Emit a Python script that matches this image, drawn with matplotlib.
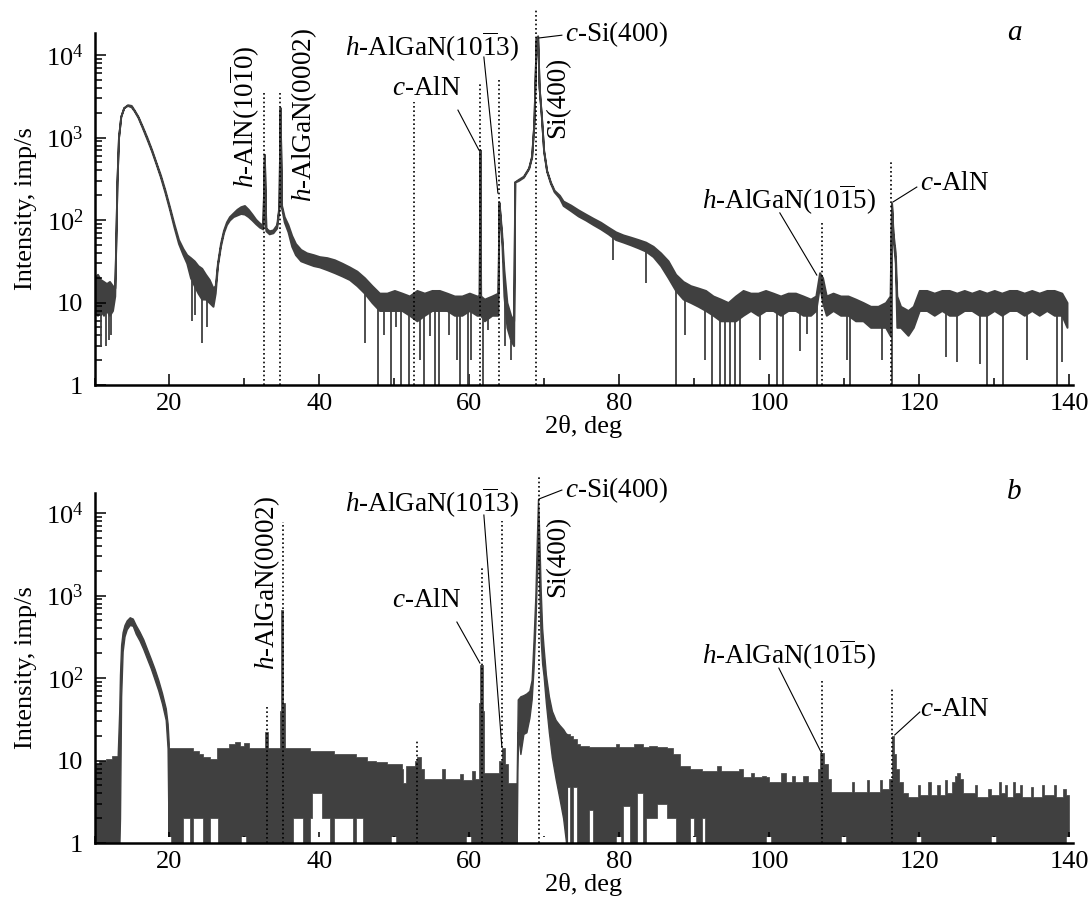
import numpy as np
import matplotlib
matplotlib.use("Agg")
import matplotlib.pyplot as plt
from matplotlib.ticker import FixedLocator, LogLocator, MultipleLocator, NullFormatter

plt.rcParams['font.family'] = ['Liberation Serif', 'DejaVu Serif']
plt.rcParams['mathtext.fontset'] = 'custom'
plt.rcParams['mathtext.rm'] = 'Liberation Serif'
plt.rcParams['mathtext.it'] = 'Liberation Serif:italic'
plt.rcParams['font.size'] = 19

# ---- panel a: noisy line given as upper / lower envelope (imp/s)
a_x = [10.0, 10.4, 10.8, 11.2, 11.6, 12.0, 12.4, 12.7, 12.85, 13.0, 13.2, 13.5, 13.9, 14.4, 14.9,
       15.3, 15.8, 16.4, 17.0, 17.6, 18.2, 18.8, 19.4, 20.0, 20.6, 21.2, 21.8, 22.3, 22.8, 23.3,
       23.8, 24.3, 24.8, 25.3, 25.8, 26.1, 26.4, 26.8, 27.2, 27.6, 28.0, 28.5, 29.0, 29.5, 30.0,
       30.5, 31.0, 31.5, 32.0, 32.45, 32.65, 32.85, 33.3, 33.8, 34.3, 34.6, 34.75, 34.95, 35.3, 35.8,
       36.3, 36.8, 37.5, 38.3, 39.2, 40.0, 41.0, 42.0, 43.0, 44.0, 45.0, 46.0, 47.0, 48.0, 49.0,
       50.0, 51.0, 52.0, 53.0, 54.0, 55.0, 56.0, 57.0, 58.0, 59.0, 60.0, 61.0, 61.3, 61.4, 61.5,
       62.0, 63.0, 63.8, 63.95, 64.3, 64.6, 65.0, 65.5, 65.9, 66.05, 66.5, 67.2, 67.9, 68.3, 68.6,
       68.9, 69.1, 69.3, 69.6, 69.9, 70.3, 70.8, 71.3, 72.0, 72.5, 73.5, 74.5, 75.5, 76.5, 77.5,
       78.5, 79.5, 80.5, 81.5, 82.5, 83.5, 84.5, 85.5, 86.5, 87.5, 88.5, 89.5, 90.5, 91.5, 92.5,
       93.5, 94.5, 95.5, 96.5, 97.5, 98.5, 99.5, 100.5, 101.5, 102.5, 103.5, 104.5, 105.5, 106.2, 106.7,
       107.1, 107.6, 108.5, 109.5, 110.5, 111.5, 112.5, 113.5, 114.5, 115.5, 116.1, 116.3, 116.5, 116.8, 117.0,
       117.5, 118.5, 119.2, 120.0, 121.0, 122.0, 123.0, 124.0, 125.0, 126.0, 127.0, 128.0, 129.0, 130.0, 131.0,
       132.0, 133.0, 134.0, 135.0, 136.0, 137.0, 138.0, 139.0, 139.7]
a_hi = [20, 22, 19, 18, 17, 18, 16, 15, 60, 300, 1000, 1800, 2300, 2500, 2450,
        2150, 1800, 1350, 1000, 720, 500, 350, 230, 145, 90, 58, 45, 38, 35, 32,
        28, 26, 22, 19, 15, 16, 30, 52, 75, 95, 110, 122, 135, 145, 150,
        135, 118, 102, 92, 86, 620, 80, 74, 76, 88, 150, 2300, 150, 110, 88,
        65, 52, 44, 40, 38, 36, 35, 33, 30, 27, 24, 20, 16, 13, 13,
        14, 13, 12, 14, 13, 14, 14, 13, 12, 12, 13, 12, 12, 710, 12,
        11, 12, 13, 166, 70, 25, 10, 7, 6, 290, 310, 340, 430, 600, 1500,
        16000, 17000, 4000, 1800, 700, 400, 290, 230, 200, 170, 152, 133, 118, 105, 94,
        82, 72, 66, 62, 58, 54, 48, 40, 32, 22, 18, 16, 15, 14, 12,
        11, 10, 12, 14, 13, 13, 14, 13, 12, 13, 13, 12, 11, 12, 23,
        20, 12, 13, 12, 12, 11, 10, 9, 9, 10, 12, 160, 70, 40, 12,
        9, 8, 9, 14, 14, 13, 14, 14, 13, 14, 13, 14, 13, 14, 13,
        14, 14, 13, 14, 13, 14, 14, 13, 10]
a_lo = [8, 7, 8, 7, 8, 7, 8, 12, 60, 300, 1000, 1800, 2300, 2450, 2350,
        2100, 1750, 1300, 950, 690, 480, 330, 215, 135, 82, 52, 38, 30, 20, 16,
        13, 11, 11, 10, 9, 13, 28, 48, 70, 88, 100, 110, 115, 120, 118,
        110, 100, 90, 82, 78, 620, 74, 68, 70, 80, 140, 2300, 140, 95, 72,
        48, 38, 32, 30, 28, 27, 25, 23, 21, 19, 16, 13, 10, 8, 8,
        8, 8, 7, 6, 7, 8, 8, 8, 7, 7, 8, 7, 7, 710, 7,
        6, 7, 7, 160, 60, 12, 5, 3.5, 3, 290, 300, 330, 420, 580, 1500,
        16000, 17000, 4000, 1800, 680, 390, 280, 220, 185, 150, 130, 112, 100, 88, 78,
        68, 58, 54, 50, 46, 42, 36, 28, 20, 14, 11, 10, 9, 8, 7,
        6, 6, 6, 7, 8, 7, 8, 8, 7, 8, 8, 7, 7, 8, 16,
        10, 7, 8, 7, 7, 6, 6, 5, 5, 5, 4, 160, 60, 30, 5,
        5, 4, 5, 8, 8, 7, 8, 7, 7, 8, 8, 7, 7, 8, 7,
        8, 8, 7, 8, 7, 8, 7, 7, 5]

# downward noise spikes of panel a: position and lowest value
a_dip_x = [10.9, 11.5, 11.9, 12.2, 23.0, 23.4, 24.3, 25.0, 46.1, 47.8, 48.6, 49.6, 50.2, 50.9, 52.0,
           53.4, 53.9, 54.7, 55.4, 56.0, 57.3, 58.3, 58.7, 59.8, 60.2, 61.85, 62.5, 64.7, 65.6, 79.2,
           83.6, 87.6, 88.7, 91.4, 92.3, 93.4, 94.1, 94.7, 95.4, 96.07, 98.7, 101.0, 101.85, 104.1, 105.0,
           106.4, 110.3, 110.7, 115.0, 116.3, 123.6, 125.0, 128.1, 129.0, 131.2, 134.3, 138.3, 139.0]
a_dip_y = [3, 3, 3.5, 4, 6, 7, 3.2, 5, 3.2, 0.5, 4, 0.5, 5, 0.5, 0.5,
           2, 0.5, 3.9, 0.5, 0.5, 4, 2, 0.5, 0.5, 2, 0.5, 4.6, 3, 2, 33,
           17, 0.5, 4, 2, 0.5, 0.5, 0.5, 0.5, 0.5, 0.5, 2, 0.5, 0.5, 2.6, 4.2,
           0.5, 2, 0.5, 2, 0.5, 2.2, 1.9, 1.8, 0.5, 0.5, 2, 0.5, 1.9]

# ---- panel b: dense histogram, step envelope (value holds from x to next x);
# the two smooth bands (low-angle hump, Si(400) peak) are listed separately
b_x = [10.0, 10.6, 11.6, 12.4, 13.1, 13.3, 19.9, 21.8, 22.7, 23.2, 24.0, 24.5, 25.4, 26.3,
       26.5, 28.0, 28.7, 29.4, 30.0, 30.6, 32.8, 33.2, 34.7, 34.85, 35.2, 35.4, 36.5, 37.8, 38.7,
       39.0, 40.4, 41.4, 41.9, 44.5, 44.9, 45.8, 46.3, 47.5, 49.0, 51.0, 51.2, 51.6, 52.7, 53.0,
       53.5, 54.0, 56.3, 56.7, 58.7, 59.1, 60.3, 60.7, 61.3, 61.45, 61.75, 61.9, 64.0, 64.3, 64.7,
       65.2, 66.3, 73.0, 73.4, 73.85, 74.3, 74.7, 76.0, 76.5, 79.5,
       80.0, 80.5, 81.4, 82.0, 82.3, 83.2, 83.6, 84.0, 85.0, 86.3, 87.2, 87.6, 88.1, 89.4, 89.9,
       91.0, 91.4, 93.0, 93.5, 96.0, 96.5, 97.5, 98.0, 99.0, 99.5, 100.0, 101.5, 102.2, 103.0, 103.4,
       104.5, 105.2, 106.5, 106.7, 107.3, 107.8, 108.2, 111.0, 111.3, 113.0, 113.3, 114.7, 115.0, 116.0, 116.3,
       116.6, 116.9, 117.3, 117.8, 118.5, 119.8, 120.1, 121.2, 121.5, 122.4, 122.7, 123.4, 123.7, 124.4, 124.7,
       125.0, 125.4, 125.8, 127.4, 127.7, 129.2, 129.5, 130.6, 130.9, 131.4, 131.7, 132.5, 132.8, 133.4, 133.7,
       134.9, 135.2, 136.3, 136.6, 137.9, 138.2, 139.2, 139.5, 140.0]
b_hi = [9, 10, 10.5, 11.5, 12, 0.8, 14, 14, 14, 13, 12, 11, 10.5, 14,
        14, 16, 17, 15, 16.5, 14, 22, 14, 40, 670, 50, 14, 14, 14, 13,
        13, 13, 13, 12, 12, 11, 11, 10, 9.5, 9, 8, 5.3, 8.5, 10, 11,
        8, 6, 8, 6, 6.8, 5.8, 7.5, 6, 50, 144, 40, 7, 10, 14, 9,
        5.3, 0.8, 21, 20, 18, 16, 15, 14.5, 14.5, 16,
        14.5, 14.5, 14.5, 16, 16, 14.5, 14.5, 15, 14.5, 14, 12, 12, 8.5, 8, 8,
        7.5, 7.5, 8.5, 7.5, 8, 6.3, 7, 6.3, 6.5, 6.3, 5.5, 7, 5.5, 6.5, 5.5,
        6.5, 5.5, 8, 12.2, 9, 6, 4.2, 5.5, 4.2, 5.8, 4.2, 5.8, 4.5, 6, 20,
        12, 8, 5.5, 4, 3.6, 5, 3.8, 5.5, 3.8, 5, 3.8, 5.8, 4, 5.5, 6.5,
        7, 6, 4, 5, 3.6, 4.5, 3.8, 5.5, 4, 5, 3.6, 5.5, 4, 5, 3.6,
        4.8, 3.6, 5, 3.8, 5, 3.6, 4.5, 3.8, 3.8]
b_lo = [0.8, 0.8, 0.8, 0.8, 0.8, 0.8, 0.8, 2, 0.8, 2, 2, 0.8, 2, 2,
        0.8, 0.8, 0.8, 0.8, 0.8, 0.8, 0.8, 0.8, 0.8, 0.8, 0.8, 0.8, 2, 0.8, 2,
        4, 2, 0.8, 2, 0.8, 2, 0.8, 0.8, 0.8, 0.8, 0.8, 0.8, 0.8, 0.8, 0.8,
        0.8, 0.8, 0.8, 0.8, 0.8, 0.8, 0.8, 0.8, 0.8, 0.8, 0.8, 0.8, 0.8, 0.8, 0.8,
        0.8, 0.8, 4.8, 0.8, 4.8, 0.8, 0.8, 2.5, 0.8, 0.8,
        0.8, 2.8, 0.8, 0.8, 4, 0.8, 2, 2, 3, 2, 2, 0.8, 0.8, 2, 0.8,
        2, 0.8, 0.8, 0.8, 0.8, 0.8, 0.8, 0.8, 0.8, 0.8, 0.8, 0.8, 0.8, 0.8, 0.8,
        0.8, 0.8, 0.8, 0.8, 0.8, 0.8, 0.8, 0.8, 0.8, 0.8, 0.8, 0.8, 0.8, 0.8, 0.8,
        0.8, 0.8, 0.8, 0.8, 0.8, 0.8, 0.8, 0.8, 0.8, 0.8, 0.8, 0.8, 0.8, 0.8, 0.8,
        0.8, 0.8, 0.8, 0.8, 0.8, 0.8, 0.8, 0.8, 0.8, 0.8, 0.8, 0.8, 0.8, 0.8, 0.8,
        0.8, 0.8, 0.8, 0.8, 0.8, 0.8, 0.8, 0.8, 0.8]

b_hump_x = [13.1, 13.3, 13.4, 13.55, 13.75, 14.0, 14.3, 14.7, 15.1, 15.5, 16.0, 16.5, 17.0, 17.5, 18.0,
            18.5, 19.0, 19.5, 19.75, 19.9]
b_hump_hi = [12, 40, 110, 250, 360, 440, 500, 545, 525, 440, 365, 295, 225, 172, 130,
             95, 66, 43, 28, 16]
b_hump_lo = [0.8, 0.8, 2, 60, 210, 320, 390, 440, 430, 345, 285, 225, 172, 132, 97,
             71, 49, 31, 14, 0.8]

b_si_x = [66.3, 66.45, 66.8, 67.2, 67.6, 68.0, 68.3, 68.55, 68.8, 69.0, 69.15, 69.3, 69.5, 69.7, 69.9,
          70.2, 70.6, 71.0, 71.5, 72.0, 72.5, 72.9, 73.0]
b_si_hi = [5.3, 55, 60, 62, 65, 70, 95, 280, 1000, 5000, 14700, 6000, 1200, 400, 230,
           110, 60, 40, 31, 27, 24, 21, 21]
b_si_lo = [0.8, 22, 12, 21, 22, 33, 55, 130, 450, 1800, 5000, 1500, 300, 150, 105,
           50, 22, 11, 6, 3.5, 2, 1, 0.8]

# reflection markers (dotted lines): position, top
a_ref_x = [32.65, 34.8, 52.6, 61.4, 64.0, 68.85, 106.96, 116.2]
a_ref_top = [3500, 3500, 2700, 4500, 5100, 37000, 92, 530]
b_ref_x = [32.96, 35.15, 52.96, 61.7, 64.4, 69.3, 106.96, 116.4]
b_ref_top = [45, 7800, 18, 2150, 8000, 29000, 93, 78]

L1013 = r'$h$-AlGaN(10$\overline{1}$3)'
L1015 = r'$h$-AlGaN(10$\overline{1}$5)'
L1010 = r'$h$-AlN(10$\overline{1}$0)'
L0002 = r'$h$-AlGaN(0002)'
LCALN = r'$c$-AlN'
LCSI = r'$c$-Si(400)'

# text: label, x, y, rotation, ha, va
a_texts = [(L1010, 30.07, 244, 90, 'center', 'bottom'),
           (L0002, 37.93, 165, 90, 'center', 'bottom'),
           (L1013, 43.4, 12500, 0, 'left', 'center'),
           (LCALN, 49.67, 3980, 0, 'left', 'center'),
           (LCSI, 72.73, 18000, 0, 'left', 'center'),
           ('Si(400)', 71.8, 986, 90, 'center', 'bottom'),
           (L1015, 91.0, 175, 0, 'left', 'center'),
           (LCALN, 120.07, 281, 0, 'left', 'center')]
b_texts = [(L0002, 33.0, 125, 90, 'center', 'bottom'),
           (L1013, 43.4, 13200, 0, 'left', 'center'),
           (LCALN, 49.67, 882, 0, 'left', 'center'),
           (LCSI, 72.73, 19000, 0, 'left', 'center'),
           ('Si(400)', 71.8, 959, 90, 'center', 'bottom'),
           (L1015, 91.0, 190, 0, 'left', 'center'),
           (LCALN, 120.07, 41, 0, 'left', 'center')]
# leader lines: x0, y0, x1, y1
a_leaders = [(61.93, 9460, 63.8, 212), (58.47, 2150, 61.27, 705), (72.33, 17400, 69.27, 16100),
             (101.4, 122, 106.33, 21.5), (119.67, 251, 116.47, 165)]
b_leaders = [(61.93, 9460, 64.33, 14.6), (58.33, 477, 61.4, 152), (72.33, 19000, 69.27, 14800),
             (101.27, 132, 106.97, 12.3), (120.07, 38.7, 116.73, 20.4)]

W, H = 1090, 911
fig = plt.figure(figsize=(W / 100, H / 100), dpi=100)
ax_a = fig.add_axes([94.5 / W, 1 - 385 / H, (1073 - 94.5) / W, 352 / H])
ax_b = fig.add_axes([94.5 / W, 1 - 843 / H, (1073 - 94.5) / W, 350 / H])

col = '#404040'

ax_a.fill_between(a_x, a_lo, a_hi, facecolor=col, edgecolor=col, linewidth=1.4)
tops = np.interp(a_dip_x, a_x, a_lo)
ax_a.vlines(a_dip_x, a_dip_y, tops, color=col, linewidth=1.3)

ax_b.fill_between(b_x, b_lo, b_hi, step='post', facecolor=col, edgecolor=col, linewidth=0.5)
ax_b.fill_between(b_hump_x, b_hump_lo, b_hump_hi, facecolor=col, edgecolor=col, linewidth=1.0)
ax_b.fill_between(b_si_x, b_si_lo, b_si_hi, facecolor=col, edgecolor=col, linewidth=1.0)
# tick marks show up as light notches inside the dense fill
ax_b.vlines(np.arange(20, 141, 10), 1, 1.17, color='white', linewidth=3.2, zorder=2.2)


def style(ax, ytop, texts, leaders, refx, reftop, letter, ly):
    ax.set_yscale('log')
    ax.set_xlim(10, 140.5)
    ax.set_ylim(1, ytop)
    for s in ['top', 'right']:
        ax.spines[s].set_visible(False)
    for s in ['left', 'bottom']:
        ax.spines[s].set_linewidth(1.8)
    ax.xaxis.set_major_locator(MultipleLocator(20))
    ax.xaxis.set_minor_locator(MultipleLocator(10))
    ax.yaxis.set_major_locator(FixedLocator([1, 10, 100, 1000, 10000]))
    ax.set_yticklabels(['1', '10', '$10^2$', '$10^3$', '$10^4$'])
    ax.yaxis.set_minor_locator(LogLocator(base=10, subs=np.arange(2, 10)))
    ax.yaxis.set_minor_formatter(NullFormatter())
    ax.tick_params(which='both', direction='in', width=1.1, labelsize=19)
    ax.tick_params(which='major', length=8)
    ax.tick_params(which='minor', length=5)
    ax.tick_params(axis='x', pad=6)
    ax.tick_params(axis='y', pad=8)
    ax.set_xlabel('2θ, deg', fontsize=19, labelpad=0)
    ax.set_ylabel('Intensity, imp/s', fontsize=19, labelpad=6)
    for x, t in zip(refx, reftop):
        ax.plot([x, x], [1, t], linestyle=(0, (1, 1.6)), color='k', linewidth=1.2, clip_on=False)
    for lab, x, y, rot, ha, va in texts:
        ax.text(x, y, lab, rotation=rot, ha=ha, va=va, fontsize=19.5, clip_on=False)
    for x0, y0, x1, y1 in leaders:
        ax.plot([x0, x1], [y0, y1], color='k', linewidth=0.8, clip_on=False)
    ax.text(132.7, ly, letter, fontstyle='italic', fontsize=21, ha='center', va='center')


style(ax_a, 18500, a_texts, a_leaders, a_ref_x, a_ref_top, 'a', 18500)
style(ax_b, 17500, b_texts, b_leaders, b_ref_x, b_ref_top, 'b', 18000)

fig.savefig('out.png', dpi=100)
